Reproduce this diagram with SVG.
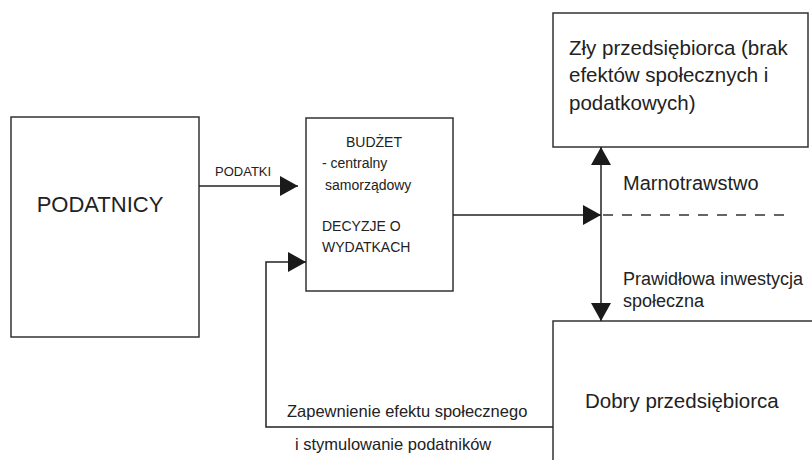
<svg xmlns="http://www.w3.org/2000/svg" width="812" height="460" viewBox="0 0 812 460">
<style>
.box{fill:#fff;stroke:#333;stroke-width:1.5}
.ln{fill:none;stroke:#222;stroke-width:1.5}
.dash{fill:none;stroke:#333;stroke-width:1.3;stroke-dasharray:10 9}
text{font-family:"Liberation Sans",Arial,sans-serif;fill:#222}
</style>
<defs>
<marker id="ah" markerUnits="userSpaceOnUse" markerWidth="18" markerHeight="20" refX="18" refY="10" orient="auto" viewBox="0 0 18 20">
<path d="M0,0 L18,10 L0,20 Z" fill="#1a1a1a"/>
</marker>
</defs>
<rect width="812" height="460" fill="#fff"/>
<g id="podatnicy">
<rect class="box" x="11" y="117" width="188" height="220"/>
<text x="100" y="212" font-size="22" text-anchor="middle">PODATNICY</text>
</g>
<g id="budzet">
<rect class="box" x="306" y="118" width="147" height="173"/>
<text x="374" y="147" font-size="14" text-anchor="middle">BUDŻET</text>
<text x="322" y="168" font-size="14">- centralny</text>
<text x="325" y="190" font-size="14">samorządowy</text>
<text x="322" y="231" font-size="14">DECYZJE O</text>
<text x="322" y="252" font-size="14">WYDATKACH</text>
</g>
<g id="zly">
<rect class="box" x="553" y="13" width="255" height="134"/>
<text x="569" y="55" font-size="20.5">Zły przedsiębiorca (brak</text>
<text x="569" y="82" font-size="20.5">efektów społecznych i</text>
<text x="569" y="110" font-size="20.5">podatkowych)</text>
</g>
<g id="dobry">
<rect class="box" x="553" y="321" width="270" height="150"/>
<text x="585" y="408" font-size="20.5">Dobry przedsiębiorca</text>
</g>
<g id="connectors">
<path class="ln" d="M199,186 H298" marker-end="url(#ah)"/>
<path class="ln" d="M453,215 H601" marker-end="url(#ah)"/>
<path class="dash" d="M603,215 H792"/>
<path class="ln" d="M601,215 V147" marker-end="url(#ah)"/>
<path class="ln" d="M601,215 V321" marker-end="url(#ah)"/>
<path class="ln" d="M553,427 H266 V262 H306" marker-end="url(#ah)"/>
</g>
<g id="labels">
<text x="215" y="176" font-size="13">PODATKI</text>
<text x="623" y="190" font-size="20">Marnotrawstwo</text>
<text x="623" y="285" font-size="18">Prawidłowa inwestycja</text>
<text x="623" y="307" font-size="18">społeczna</text>
<text x="287" y="417" font-size="16.5">Zapewnienie efektu społecznego</text>
<text x="295" y="450" font-size="16.5">i stymulowanie podatników</text>
</g>
</svg>
